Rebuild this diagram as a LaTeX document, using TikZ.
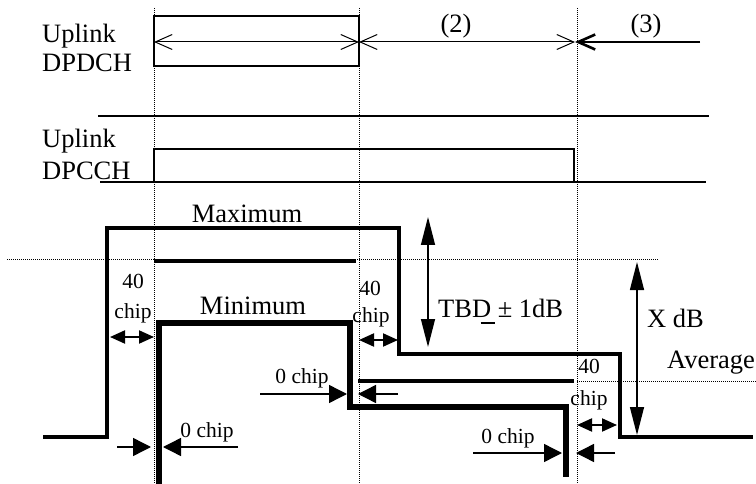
\documentclass[tikz,border=0pt]{standalone}
\usepackage{fontspec}
\setmainfont{Liberation Serif}
\usetikzlibrary{arrows.meta}

\tikzset{
  trace/.style={line width=4.8pt, line join=miter},
  guide/.style={line width=0.8pt, dash pattern=on 1pt off 1pt},
  span/.style={line width=1pt, {Straight Barb[length=17pt,width=15pt]}-{Straight Barb[length=17pt,width=15pt]}},
  push/.style={line width=1.4pt, -{Triangle[length=18pt,width=18pt]}},
  gap/.style={line width=2pt, {Triangle[length=15pt,width=13pt]}-{Triangle[length=15pt,width=13pt]}},
  level/.style={line width=1.4pt, {Triangle[length=28pt,width=14pt]}-{Triangle[length=28pt,width=14pt]}},
  big/.style={inner sep=0pt, font=\fontsize{26.5}{30}\selectfont},
  small/.style={inner sep=0pt, font=\fontsize{21.5}{25}\selectfont}
}

\begin{document}
\begin{tikzpicture}[x=1pt, y=-1pt]
	\useasboundingbox (0,0) rectangle (756,484);
	\coordinate (S0) at (154,42);
	\coordinate (S1) at (359,42);
	\coordinate (S2) at (575,42);
	\coordinate (S3) at (700,42);
	\foreach \x in {154,359,577}
		\draw[guide] (\x,8) -- (\x,484);
	\draw[guide] (7,259) -- (658,259);
	\draw[guide] (577,381) -- (756,381);

	\node[big, anchor=base west] (ul1) at (42,43) {Uplink};
	\node[big, anchor=base west] (dpdch) at (42,72) {DPDCH};
	\node[big, anchor=base west] (ul2) at (42,148) {Uplink};
	\node[big, anchor=base west] (dpcch) at (42,180) {DPCCH};
	\node[big, anchor=base] (slot2) at (456,33) {(2)};
	\node[big, anchor=base] (slot3) at (646,33) {(3)};

	\draw[line width=1.6pt] (154,16) rectangle (359,66);
	\draw[span] (S0) -- (S1);
	\draw[span] (S1) -- (S2);
	\draw[line width=2.6pt, -{Straight Barb[length=17pt,width=15pt]}] (S3) -- (S2);
	\draw[line width=1.3pt] (98,116) -- (709,116);
	\draw[line width=1.3pt] (100,182) -- (706,182);
	\draw[line width=2.4pt] (154,182) -- (154,149) -- (574,149) -- (574,182) -- cycle;

	\draw[trace] (43,437) -- (107,437) -- (107,228) -- (399,228) -- (399,354) -- (620,354) -- (620,437) -- (753,437);
	\draw[trace] (154,261) -- (356,261);
	\draw[trace] (358,381) -- (574,381);
	\draw[trace, line width=5.2pt] (159,484) -- (159,323) -- (350,323) -- (350,407) -- (566,407) -- (566,477);

	\node[big, anchor=base] (maxlbl) at (247,223) {Maximum};
	\node[big, anchor=base] (minlbl) at (253,315) {Minimum};
	\node[big, anchor=base west] (tbd) at (438,317) {TB\rlap{\hspace{0.32em}\rule[-0.26em]{0.56em}{0.08em}}D ± 1dB};
	\node[big, anchor=base west] (xdb) at (647,327) {X dB};
	\node[big, anchor=base west] (avg) at (667,368) {Average};

	\node[small, anchor=base] (n40a) at (133,288) {40};
	\node[small, anchor=base] (chipa) at (133,319) {chip};
	\node[small, anchor=base] (n40b) at (370,295) {40};
	\node[small, anchor=base] (chipb) at (371,323) {chip};
	\node[small, anchor=base] (n40c) at (589,373) {40};
	\node[small, anchor=base] (chipc) at (589,405) {chip};
	\node[small, anchor=base] (zeroa) at (207,437) {0 chip};
	\node[small, anchor=base] (zerob) at (302,383) {0 chip};
	\node[small, anchor=base] (zeroc) at (508,443) {0 chip};

	\draw[gap] (110,337) -- (154,337);
	\draw[gap] (359,340) -- (398,340);
	\draw[gap] (577,425) -- (617,425);
	\draw[push] (117,447) -- (151,447);
	\draw[push] (238,447) -- (163,447);
	\draw[push] (260,394) -- (347,394);
	\draw[push] (398,394) -- (358,394);
	\draw[push] (473,453) -- (562,453);
	\draw[push] (615,453) -- (576,453);
	\draw[level] (428,217) -- (428,347);
	\draw[level] (637,262) -- (637,435);
\end{tikzpicture}
\end{document}
